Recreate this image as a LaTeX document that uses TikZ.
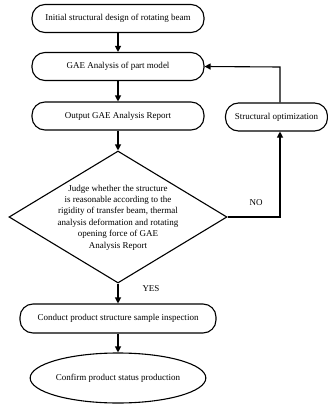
\documentclass[tikz,border=0pt]{standalone}
\usepackage{fontspec}
\setmainfont{Liberation Serif}
\usetikzlibrary{shapes.geometric,arrows.meta}
\begin{document}
\begin{tikzpicture}[x=1pt,y=-1pt,
  proc/.style={draw,line width=1.1pt,rounded corners=13pt,minimum height=28pt,inner sep=0pt,font=\fontsize{9}{11}\selectfont},
  arr/.style={line width=1.1pt,-{Triangle[length=6pt,width=6pt]}},
  lbl/.style={font=\fontsize{9}{11}\selectfont}]
\useasboundingbox (0,0) rectangle (328,404);
\node[proc,minimum width=172pt] (b1) at (118,18.5) {Initial structural design of rotating beam};
\node[proc,minimum width=172pt] (b2) at (118,66.5) {GAE Analysis of part model};
\node[proc,minimum width=172pt] (b3) at (118,116) {Output GAE Analysis Report};
\node[proc,minimum width=102pt] (opt) at (276.5,117) {Structural optimization};
\node[draw,diamond,line width=1.1pt,minimum width=218pt,minimum height=132pt,inner sep=0pt] (dia) at (118,217) {};
\node[align=center,font=\fontsize{9}{11.4}\selectfont,inner sep=0pt] (dtext) at (118,217.5) {Judge whether the structure\\is reasonable according to the\\rigidity of transfer beam, thermal\\analysis deformation and rotating\\opening force of GAE\\Analysis Report};
\node[proc,minimum width=196pt,minimum height=29pt] (b5) at (118,318.5) {Conduct product structure sample inspection};
\node[draw,ellipse,line width=1.1pt,minimum width=174pt,minimum height=50pt,inner sep=0pt,font=\fontsize{9}{11}\selectfont] (ell) at (118,378) {Confirm product status production};
\coordinate (c1) at (280,217);
\coordinate (c2) at (280,67);
\draw[arr] (b1) -- (b2);
\draw[arr] (b2) -- (b3);
\draw[arr] (b3) -- (dia.north);
\draw[arr] (dia.south) -- (b5);
\draw[arr] (b5) -- (ell);
\draw[arr] (dia.east) -- (c1) -- (c1 |- opt.south);
\draw[arr] (c1 |- opt.north) -- (c2) -- (b2.east);
\node[lbl] (no) at (256,203) {NO};
\node[lbl] (yes) at (151,289) {YES};
\end{tikzpicture}
\end{document}
